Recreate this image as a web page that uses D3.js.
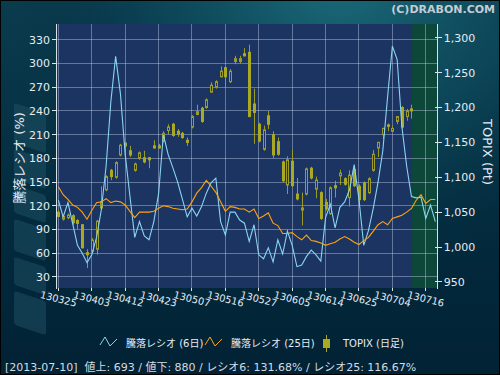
<!DOCTYPE html>
<html><head><meta charset="utf-8">
<script src="https://cdn.jsdelivr.net/npm/d3@7"></script>
<style>body{margin:0;background:#03263a;} svg{display:block}</style>
</head><body><svg id="c" width="500" height="375"></svg>
<script>
// ---- data ----
const tickLabels = ["130325","130403","130412","130423","130507","130516","130527","130605","130614","130625","130704","130716"];
const tickIndex = [0,7,14,21,28,35,42,49,56,63,70,77];
const leftTicks = [30,60,90,120,150,180,210,240,270,300,330];
const rightTicks = [950,1000,1050,1100,1150,1200,1250,1300];

const topixOpen  = [1050,1040,1042,1045,1038,1032,992,994,997,1056,1082,1110,1100,1132,1149,1138,1110,1127,1128,1128,1145,1145,1152,1167,1176,1166,1163,1153,1172,1190,1199,1200,1222,1229,1244,1257,1237,1266,1266,1277,1279,1205,1176,1140,1188,1161,1151,1122,1089,1123,1076,1053,1076,1113,1083,1078,1064,1048,1088,1102,1098,1071,1111,1087,1092,1078,1110,1142,1161,1175,1166,1180,1200,1187,1198];
const topixHigh  = [1053,1046,1048,1047,1040,1033,997,1013,1039,1087,1103,1112,1123,1148,1150,1145,1121,1137,1138,1129,1153,1148,1166,1176,1178,1169,1165,1157,1189,1204,1201,1213,1236,1239,1259,1259,1255,1274,1274,1285,1290,1227,1178,1174,1195,1166,1157,1124,1130,1139,1099,1078,1114,1115,1101,1080,1069,1087,1095,1111,1100,1110,1113,1090,1094,1100,1139,1151,1171,1177,1174,1187,1202,1198,1204];
const topixLow   = [1042,1038,1040,1032,1026,998,970,992,989,1054,1080,1096,1098,1130,1132,1129,1108,1125,1120,1113,1141,1141,1150,1162,1158,1158,1155,1145,1170,1189,1178,1198,1221,1227,1243,1229,1235,1262,1263,1273,1186,1148,1150,1138,1169,1127,1131,1093,1076,1086,1067,1031,1074,1097,1070,1039,1052,1046,1071,1089,1088,1058,1086,1060,1066,1076,1108,1129,1155,1166,1165,1176,1170,1181,1184];
const topixClose = [1044,1044,1046,1035,1034,999,989,1010,1037,1065,1101,1101,1121,1146,1145,1132,1119,1135,1122,1125,1142,1142,1163,1172,1160,1162,1157,1150,1187,1194,1180,1211,1232,1237,1252,1244,1252,1270,1270,1274,1187,1193,1152,1168,1176,1132,1133,1095,1125,1088,1069,1056,1112,1099,1096,1041,1055,1085,1085,1106,1090,1103,1088,1068,1068,1098,1133,1150,1170,1173,1170,1187,1172,1195,1195];

const ratio6 = [127,106,124,97,70,60,48,58,80,115,
                170,252,309,262,185,132,80,100,82,77,
                100,135,210,185,168,150,128,106,117,107,
                119,136,149,155,100,83,112,112,102,98,
                75,96,58,53,67,49,77,59,88,70,
                43,45,56,64,58,50,105,122,92,118,
                125,140,172,128,70,89,117,150,190,258,
                322,305,220,170,131.68,130,131,104,121,100];
const ratio25 = [144,134,128,121,118,112,103,114,124,125,
                 129,124,126,125,121,113,105,112,112,112,
                 113,117,120,119,117,116,115,116,125,136,
                 143,152,145,137,125,113,119,118,116,116,
                 112,116,104,107,111,98,95,85,85,86,
                 81,77,83,76,75,73,70,72,74,78,
                 81,78,74,71,76,80,88,96,100,96,
                 104,106,108,112,116.67,127,134,123,128,128];

const legendLabels = ["騰落レシオ (6日)","騰落レシオ (25日)","TOPIX (日足)"];
const footerText = "[2013-07-10]  値上: 693 / 値下: 880 / レシオ6: 131.68% / レシオ25: 116.67%";

// ---- drawing ----
const svg = d3.select("#c");
const FONT = "'DejaVu Sans','Noto Sans CJK JP',sans-serif";
const L = 56, R = 437.7, T = 24, B = 288;
const x = d3.scaleLinear().domain([-0.5, 79.5]).range([L, R]);
const yL = d3.scaleLinear().domain([16, 350]).range([B, T]);
const yR = d3.scaleLinear().domain([941.4, 1319.6]).range([B, T]);

const defs = svg.append("defs");
const rg = defs.append("radialGradient").attr("id","glow")
  .attr("gradientUnits","userSpaceOnUse").attr("cx",340).attr("cy",-30).attr("r",330);
rg.append("stop").attr("offset","0%").attr("stop-color","#1c6d7c").attr("stop-opacity",1);
rg.append("stop").attr("offset","55%").attr("stop-color","#0d4a5c").attr("stop-opacity",0.7);
rg.append("stop").attr("offset","100%").attr("stop-color","#03263a").attr("stop-opacity",0);
const lg = defs.append("linearGradient").attr("id","bgv").attr("x1",0).attr("y1",0).attr("x2",0).attr("y2",1);
lg.append("stop").attr("offset","0%").attr("stop-color","#0a3c4e");
lg.append("stop").attr("offset","60%").attr("stop-color","#032a3d");
lg.append("stop").attr("offset","100%").attr("stop-color","#022235");

svg.append("rect").attr("width",500).attr("height",375).attr("fill","url(#bgv)");
svg.append("rect").attr("width",500).attr("height",375).attr("fill","url(#glow)");

// watermark shapes (decorative)
const wm = svg.append("g").attr("transform","translate(30,330) rotate(-90) skewX(-18)").attr("fill","#24566a").attr("opacity",0.45);
[[0,34],[40,28],[74,32],[112,28],[146,30],[182,40]].forEach(([s,w]) => {
  wm.append("rect").attr("x",s).attr("y",-16).attr("width",w).attr("height",32).attr("rx",3);
});

// plot background
svg.append("rect").attr("x",L).attr("y",T).attr("width",R-L).attr("height",B-T).attr("fill","#1b3461");
svg.append("rect").attr("x",x(74)).attr("y",T).attr("width",R-x(74)).attr("height",B-T).attr("fill","#0c473a");

// grid
const grid = svg.append("g").attr("stroke","rgba(200,210,235,0.42)").attr("stroke-width",1).attr("shape-rendering","crispEdges");
leftTicks.forEach(v => grid.append("line").attr("x1",L).attr("x2",R).attr("y1",yL(v)).attr("y2",yL(v)));
tickIndex.forEach(i => grid.append("line").attr("x1",x(i)).attr("x2",x(i)).attr("y1",T).attr("y2",B));

// candles
const cg = svg.append("g");
topixOpen.forEach((o,i) => {
  const c = topixClose[i], h = topixHigh[i], l = topixLow[i];
  const r = Math.round(x(i));
  const up = c >= o;
  cg.append("line").attr("x1",r+0.5).attr("x2",r+0.5).attr("y1",yR(h)).attr("y2",yR(l))
    .attr("stroke","#9b9b24").attr("stroke-width",1);
  const top = yR(Math.max(o,c)), bot = yR(Math.min(o,c));
  cg.append("rect").attr("x",r-0.5).attr("y",top).attr("width",2).attr("height",Math.max(1,bot-top))
    .attr("fill", up ? "#1b3461" : "#a9a924").attr("stroke", up ? "#9c9c2c" : "#a9a924").attr("stroke-width",1);
});

// ratio lines
const line = d3.line().x((d,i)=>x(i)).y(d=>yL(d));
svg.append("path").datum(ratio6).attr("d",line).attr("fill","none").attr("stroke","#8ad4f2").attr("stroke-width",1.1);
svg.append("path").datum(ratio25).attr("d",line).attr("fill","none").attr("stroke","#ffa312").attr("stroke-width",1.1);

// axes
const ax = svg.append("g").attr("stroke","#d8e0ea").attr("stroke-width",1).attr("shape-rendering","crispEdges");
ax.append("line").attr("x1",L).attr("x2",L).attr("y1",T).attr("y2",B+1);
ax.append("line").attr("x1",R).attr("x2",R).attr("y1",T).attr("y2",B+1);
leftTicks.forEach(v => ax.append("line").attr("x1",L-4).attr("x2",L).attr("y1",yL(v)).attr("y2",yL(v)));
rightTicks.forEach(v => ax.append("line").attr("x1",R-3).attr("x2",R+4).attr("y1",yR(v)).attr("y2",yR(v)));
tickIndex.forEach(i => ax.append("line").attr("x1",x(i)).attr("x2",x(i)).attr("y1",B).attr("y2",B+3));

const tcol = "#e6ecf2";
svg.append("g").selectAll("text").data(leftTicks).join("text")
  .attr("x",L-6).attr("y",d=>yL(d)).attr("dy","0.36em").attr("text-anchor","end")
  .attr("font-family",FONT).attr("font-size",11).attr("fill",tcol).text(d=>d);
const fmt = d3.format(",");
svg.append("g").selectAll("text").data(rightTicks).join("text")
  .attr("x",R+6).attr("y",d=>yR(d)).attr("dy","0.36em").attr("text-anchor","start")
  .attr("font-family",FONT).attr("font-size",11).attr("fill",tcol).text(d=>fmt(d));
svg.append("g").selectAll("text").data(tickIndex).join("text")
  .attr("transform",d=>`translate(${x(d)},${299}) rotate(14)`).attr("text-anchor","middle").attr("dy","0.35em")
  .attr("font-family",FONT).attr("font-size",9.8).attr("fill",tcol)
  .text((d,k)=>tickLabels[k]);

// axis titles
svg.append("text").attr("transform","translate(24,158) rotate(-90)").attr("text-anchor","middle")
  .attr("font-family",FONT).attr("font-size",13).attr("fill",tcol).text("騰落レシオ (%)");
svg.append("text").attr("transform","translate(483,152) rotate(90)").attr("text-anchor","middle")
  .attr("font-family",FONT).attr("font-size",13).attr("fill",tcol).text("TOPIX (Pt)");

// title
svg.append("text").attr("x",495).attr("y",13).attr("text-anchor","end").attr("font-family",FONT)
  .attr("font-weight","bold").attr("font-size",11).attr("fill","#c4ccd4").text("(C)DRABON.COM");

// legend
const lgY = 347;
const zig = (x0,col) => svg.append("polyline")
  .attr("points",`${x0},${lgY-2} ${x0+5},${lgY-10} ${x0+10},${lgY-1} ${x0+17},${lgY-8}`)
  .attr("fill","none").attr("stroke",col).attr("stroke-width",1);
zig(100,"#8ad4f2"); zig(205,"#ffa312");
svg.append("line").attr("x1",326.5).attr("x2",326.5).attr("y1",335).attr("y2",352).attr("stroke","#a9a924");
svg.append("rect").attr("x",323).attr("y",339).attr("width",7).attr("height",9).attr("fill","#a9a924");
const lgx = [126,231,343];
legendLabels.forEach((t,k)=> svg.append("text").attr("x",lgx[k]).attr("y",lgY).attr("font-family",FONT)
  .attr("font-size",10).attr("fill",tcol).text(t));

// footer
svg.append("text").attr("x",5).attr("y",371).attr("font-family",FONT).attr("font-size",11)
  .attr("fill","#d4dbe2").style("white-space","pre").text(footerText);

// frame
svg.append("rect").attr("x",0.5).attr("y",0.5).attr("width",499).attr("height",374).attr("fill","none").attr("stroke","#000").attr("stroke-width",1);
</script></body></html>
